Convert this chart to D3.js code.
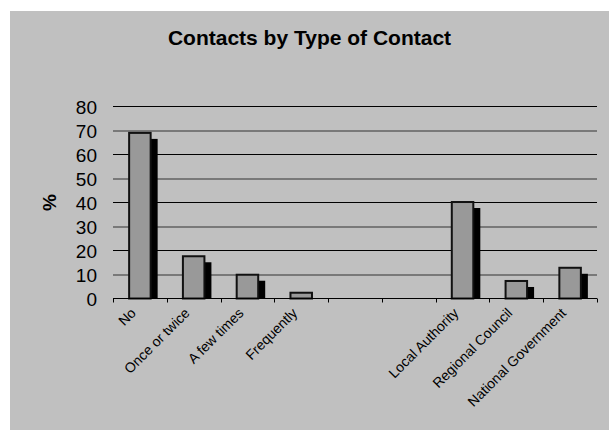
<!DOCTYPE html>
<html>
<head>
<meta charset="utf-8">
<script src="https://cdn.jsdelivr.net/npm/d3@7"></script>
<style>
  html, body { margin: 0; padding: 0; background: #ffffff; }
  svg { display: block; }
  text { font-family: Arial, "Liberation Sans", sans-serif; fill: #000; }
</style>
</head>
<body>
<svg id="chart" width="609" height="430"></svg>
<script>
// Survey: frequency and type of contact with government (percent)
const categories = ["No", "Once or twice", "A few times", "Frequently", "", "",
                    "Local Authority", "Regional Council", "National Government"];
const percents = [69, 17.6, 9.9, 2.4, null, null, 40.2, 7.3, 12.8];
const yTicks = [0, 10, 20, 30, 40, 50, 60, 70, 80];
const chartTitle = "Contacts by Type of Contact";
const yTitle = "%";

const svg = d3.select("#chart");

// chart area background
svg.append("rect")
  .attr("x", 10).attr("y", 11)
  .attr("width", 599).attr("height", 419)
  .attr("fill", "#c0c0c0");

const x = d3.scaleBand()
  .domain(d3.range(categories.length))
  .range([113, 597])
  .paddingInner(0).paddingOuter(0);

const y = d3.scaleLinear().domain([0, 80]).range([298.5, 106.5]);

// title
svg.append("text")
  .attr("x", 309.5).attr("y", 45)
  .attr("text-anchor", "middle")
  .attr("font-size", 21).attr("font-weight", "bold")
  .text(chartTitle);

// horizontal gridlines (minor tens drawn slightly softer)
svg.append("g").selectAll("line")
  .data(yTicks.filter(v => v > 0))
  .join("line")
  .attr("x1", 113).attr("x2", 597)
  .attr("y1", v => y(v) + (v % 20 ? 0.5 : 0))
  .attr("y2", v => y(v) + (v % 20 ? 0.5 : 0))
  .attr("stroke", v => v % 20 ? "#333" : "#000")
  .attr("stroke-width", 1);

// y tick labels
const yAxis = d3.axisLeft(y).tickValues(yTicks).tickSize(0).tickPadding(0);
const gy = svg.append("g").attr("transform", "translate(97,0)").call(yAxis);
gy.select(".domain").remove();
gy.selectAll("text")
  .attr("font-size", 19)
  .attr("font-family", "Arial, 'Liberation Sans', sans-serif")
  .attr("fill", "#000")
  .attr("x", 0)
  .attr("dy", "0.35em");

// y axis title
svg.append("text")
  .attr("transform", "translate(56,202.5) rotate(-90)")
  .attr("text-anchor", "middle")
  .attr("font-size", 19).attr("font-weight", "bold")
  .text(yTitle);

// bars with drop shadow
const barW = x.bandwidth() * 0.4;
const shadowOff = 6;
const bars = svg.append("g").selectAll("g")
  .data(percents.map((v, i) => ({ v, i })).filter(d => d.v != null))
  .join("g");

bars.append("rect")
  .attr("x", d => x(d.i) + (x.bandwidth() - barW) / 2 + shadowOff)
  .attr("y", d => y(d.v) + shadowOff)
  .attr("width", barW + 1)
  .attr("height", d => Math.max(0, y(0) - y(d.v) - shadowOff))
  .attr("fill", "#000");

bars.append("rect")
  .attr("x", d => x(d.i) + (x.bandwidth() - barW) / 2)
  .attr("y", d => y(d.v))
  .attr("width", barW)
  .attr("height", d => y(0) - y(d.v))
  .attr("fill", "#999999")
  .attr("stroke", "#111")
  .attr("stroke-width", 2);

// x axis: baseline, tick marks between categories, rotated labels
const gx = svg.append("g").attr("transform", "translate(0,298.5)");
gx.append("line")
  .attr("x1", 113).attr("x2", 597)
  .attr("stroke", "#000").attr("stroke-width", 1);
gx.selectAll("line.tick")
  .data(d3.range(categories.length + 1))
  .join("line")
  .attr("class", "tick")
  .attr("x1", i => Math.round(i < categories.length ? x(i) : x.range()[1]) + 0.5)
  .attr("x2", i => Math.round(i < categories.length ? x(i) : x.range()[1]) + 0.5)
  .attr("y1", 0).attr("y2", 4)
  .attr("stroke", "#000");

svg.append("g").selectAll("text")
  .data(categories.map((c, i) => ({ c, i })))
  .join("text")
  .attr("transform", d => `translate(${x(d.i) + x.bandwidth() / 2 - 10},${307}) rotate(-45)`)
  .attr("text-anchor", "end")
  .attr("dy", "0.7em")
  .attr("font-size", 14)
  .text(d => d.c);
</script>
</body>
</html>
